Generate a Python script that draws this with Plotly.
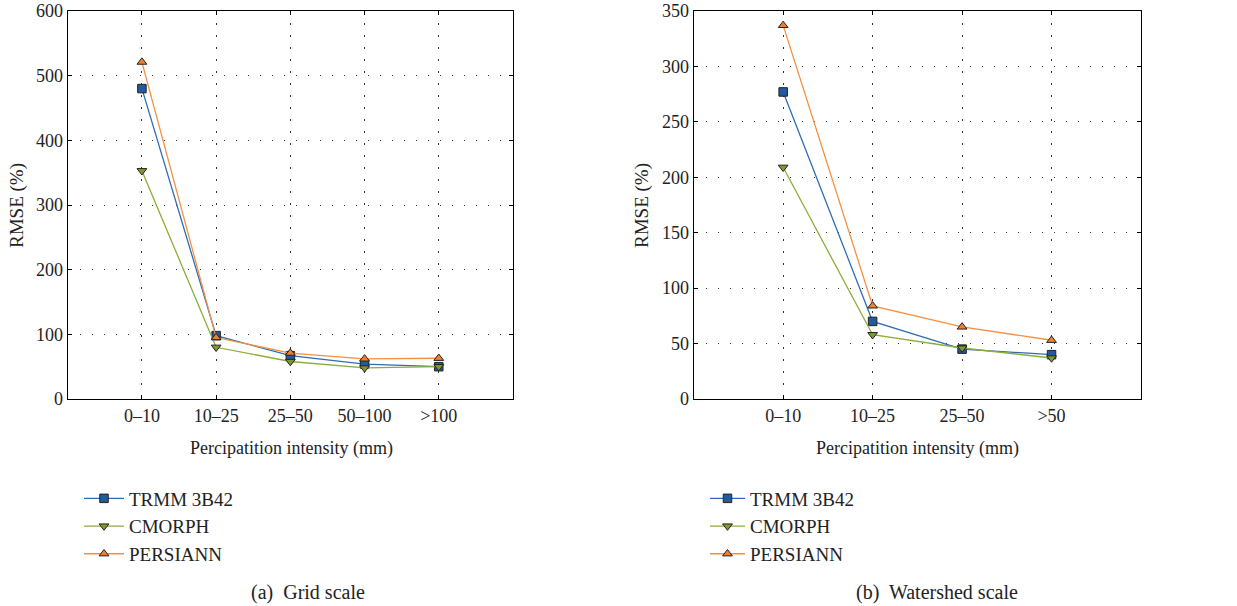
import plotly.graph_objects as go

# ---- data ----
cats_grid = ["0–10", "10–25", "25–50", "50–100", ">100"]
trmm_grid = [480, 98, 67, 54, 50]
cmorph_grid = [353, 80, 58, 48, 50]
persiann_grid = [521, 95, 71, 62, 63]

cats_ws = ["0–10", "10–25", "25–50", ">50"]
trmm_ws = [277, 70, 45, 40]
cmorph_ws = [209, 58, 46, 37]
persiann_ws = [337, 84, 65, 53]

series_names = ["TRMM 3B42", "CMORPH", "PERSIANN"]

W, H = 1237, 606
FONT = "Liberation Serif"

line_cols = ["#2e6db4", "#8cad3a", "#f59040"]
fill_cols = ["#1f5b9e", "#7d9a2a", "#f08030"]
symbols = ["square", "triangle-down", "triangle-up"]

fig = go.Figure()

def add_panel(cats, vals, xa, ya, legend):
    for i, (name, v) in enumerate(zip(series_names, vals)):
        fig.add_trace(go.Scatter(
            x=list(range(len(cats))), y=v, name=name, mode="lines+markers",
            line=dict(color=line_cols[i], width=1.3),
            marker=dict(symbol=symbols[i], size=8.5, color=fill_cols[i],
                        line=dict(color="#222222", width=1)),
            xaxis=xa, yaxis=ya, legend=legend,
        ))

add_panel(cats_grid, [trmm_grid, cmorph_grid, persiann_grid], "x", "y", "legend")
add_panel(cats_ws, [trmm_ws, cmorph_ws, persiann_ws], "x2", "y2", "legend2")

def px_x(p):
    return p / W

def px_y(p):
    return 1 - p / H

ydom = [px_y(399), px_y(11)]

axis_common = dict(
    showline=True, linecolor="black", linewidth=1, mirror="allticks",
    ticks="inside", ticklen=4, tickcolor="black", automargin=False,
    ticklabeloverflow="allow",
    showgrid=True, gridcolor="#333333", griddash="1.5px,10.5px", gridwidth=1.2,
    zeroline=False, tickfont=dict(family=FONT, size=18, color="#222222"),
)

legend_common = dict(xanchor="left", yanchor="top",
                     font=dict(family=FONT, size=19, color="#222222"),
                     bgcolor="rgba(0,0,0,0)", tracegroupgap=0)

fig.update_layout(
    width=W, height=H,
    margin=dict(l=0, r=0, t=0, b=0, autoexpand=False),
    paper_bgcolor="white", plot_bgcolor="white",
    font=dict(family=FONT, size=18, color="#222222"),
    showlegend=True,
    xaxis=dict(domain=[px_x(67.7), px_x(513)], range=[-1, 5],
               tickvals=list(range(len(cats_grid))), ticktext=cats_grid,
               anchor="y", **axis_common),
    yaxis=dict(domain=ydom, range=[0, 600], tickvals=[0, 100, 200, 300, 400, 500, 600],
               anchor="x", **axis_common),
    xaxis2=dict(domain=[px_x(693.7), px_x(1141)], range=[-1, 4],
                tickvals=list(range(len(cats_ws))), ticktext=cats_ws,
                anchor="y2", **axis_common),
    yaxis2=dict(domain=ydom, range=[0, 350], tickvals=[0, 50, 100, 150, 200, 250, 300, 350],
                anchor="x2", **axis_common),
    legend=dict(x=px_x(79), y=px_y(479.5), itemwidth=40, **legend_common),
    legend2=dict(x=px_x(705), y=px_y(479.5), itemwidth=35, **legend_common),
)

ann = [
    dict(text="RMSE (%)", x=px_x(17), y=px_y(206), textangle=-90, size=19),
    dict(text="RMSE (%)", x=px_x(642), y=px_y(206), textangle=-90, size=19),
    dict(text="Percipatition intensity (mm)", x=px_x(291), y=px_y(448)),
    dict(text="Percipatition intensity (mm)", x=px_x(917), y=px_y(448)),
    dict(text="(a)  Grid scale", x=px_x(308), y=px_y(592), size=20),
    dict(text="(b)  Watershed scale", x=px_x(937), y=px_y(592), size=20),
]
for a in ann:
    fig.add_annotation(text=a["text"], x=a["x"], y=a["y"], xref="paper", yref="paper",
                       xanchor="center", yanchor="middle", showarrow=False,
                       textangle=a.get("textangle", 0),
                       font=dict(family=FONT, size=a.get("size", 18), color="#222222"))

fig.write_html("out.html", config={"displayModeBar": False},
               post_script="document.body.style.margin='0';document.body.style.overflow='hidden';")
